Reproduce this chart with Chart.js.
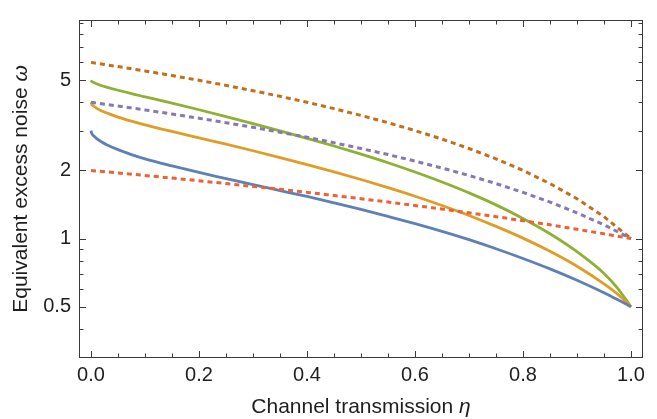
<!DOCTYPE html>
<html><head><meta charset="utf-8">
<script src="https://cdn.jsdelivr.net/npm/chart.js@4"></script>
<style>html,body{margin:0;padding:0;background:#fff}canvas{display:block}</style>
</head><body>
<canvas id="c" width="657" height="419"></canvas>
<script>
// ---- data ----
const etaSolid = [0, 0.001, 0.0025, 0.005, 0.01, 0.02, 0.03, 0.05, 0.075, 0.1, 0.15, 0.2, 0.25, 0.3, 0.35, 0.4, 0.45, 0.5, 0.55, 0.6, 0.65, 0.7, 0.75, 0.8, 0.85, 0.9, 0.95, 0.975, 1.0];
const blueSolid   = [3.00, 2.93, 2.88, 2.84, 2.77, 2.67, 2.59, 2.47, 2.35, 2.25, 2.094, 1.959, 1.841, 1.730, 1.629, 1.535, 1.439, 1.346, 1.253, 1.164, 1.076, 0.989, 0.902, 0.817, 0.735, 0.655, 0.577, 0.538, 0.50];
const orangeSolid = [4.00, 3.93, 3.89, 3.84, 3.77, 3.66, 3.58, 3.44, 3.30, 3.18, 2.972, 2.786, 2.612, 2.443, 2.280, 2.123, 1.972, 1.824, 1.679, 1.538, 1.400, 1.265, 1.132, 1.005, 0.879, 0.755, 0.631, 0.569, 0.50];
const greenSolid  = [5.00, 4.955, 4.92, 4.887, 4.83, 4.73, 4.656, 4.52, 4.365, 4.227, 3.963, 3.707, 3.459, 3.221, 2.992, 2.773, 2.564, 2.360, 2.163, 1.968, 1.778, 1.592, 1.409, 1.227, 1.050, 0.875, 0.702, 0.605, 0.50];

const etaDashed = [0, 0.05, 0.1, 0.15, 0.2, 0.25, 0.3, 0.35, 0.4, 0.45, 0.5, 0.55, 0.6, 0.65, 0.7, 0.75, 0.8, 0.85, 0.9, 0.95, 1.0];
const redDashed    = [2.00, 1.95, 1.90, 1.85, 1.80, 1.75, 1.70, 1.65, 1.60, 1.55, 1.50, 1.45, 1.40, 1.35, 1.30, 1.25, 1.20, 1.15, 1.10, 1.05, 1.00];
const purpleDashed = [4.00, 3.85, 3.70, 3.55, 3.40, 3.25, 3.10, 2.95, 2.80, 2.65, 2.50, 2.35, 2.20, 2.05, 1.90, 1.75, 1.60, 1.45, 1.30, 1.15, 1.00];
const brownDashed  = [6.00, 5.75, 5.50, 5.25, 5.00, 4.75, 4.50, 4.25, 4.00, 3.75, 3.50, 3.25, 3.00, 2.75, 2.50, 2.25, 2.00, 1.75, 1.50, 1.25, 1.00];

const xTickLabels = [0, 0.2, 0.4, 0.6, 0.8, 1.0];
const xMinorTicks = [0.05, 0.1, 0.15, 0.25, 0.3, 0.35, 0.45, 0.5, 0.55, 0.65, 0.7, 0.75, 0.85, 0.9, 0.95];
const yTickLabels = [0.5, 1, 2, 5];
const yMinorTicks = [0.4, 0.6, 0.7, 0.8, 0.9, 3, 4, 6, 7, 8, 9];

const xTitle = ['Channel transmission ', '\u03B7'];
const yTitle = ['Equivalent excess noise ', '\u03C9'];

// ---- styling ----
const FONT = "'Liberation Sans', Arial, sans-serif";
const textColor = '#1e1e1e';
const frameColor = '#3a3a3a';

function pts(xs, ys) { return xs.map((x, i) => ({ x: x, y: ys[i] })); }
function solid(data, color) {
  return { data: data, borderColor: color, borderWidth: 2.8, pointRadius: 0, fill: false,
           cubicInterpolationMode: 'monotone', order: 1 };
}
function dashed(data, color) {
  return { data: data, borderColor: color, borderWidth: 3, pointRadius: 0, fill: false,
           borderDash: [5, 4], order: 0 };
}

const frameTicks = {
  id: 'frameTicks',
  afterDraw(chart) {
    const { ctx, chartArea: a, scales: { x, y } } = chart;
    ctx.save();
    ctx.strokeStyle = frameColor;
    ctx.lineWidth = 1;
    ctx.strokeRect(a.left - 0.5, a.top - 0.5, a.right - a.left + 1, a.bottom - a.top + 1);
    ctx.beginPath();
    const tick = (vals, len) => {
      vals.forEach(v => {
        const px = Math.round(x.getPixelForValue(v)) + 0.5;
        ctx.moveTo(px, a.bottom); ctx.lineTo(px, a.bottom - len);
        ctx.moveTo(px, a.top); ctx.lineTo(px, a.top + len);
      });
    };
    const ytick = (vals, len) => {
      vals.forEach(v => {
        const py = Math.round(y.getPixelForValue(v)) + 0.5;
        ctx.moveTo(a.left, py); ctx.lineTo(a.left + len, py);
        ctx.moveTo(a.right, py); ctx.lineTo(a.right - len, py);
      });
    };
    tick(xTickLabels, 6); tick(xMinorTicks, 3.5);
    ytick(yTickLabels, 6); ytick(yMinorTicks, 3.5);
    ctx.stroke();

    // axis titles with italic symbols
    const normal = '21px ' + FONT, ital = 'italic 21px ' + FONT;
    const drawMixed = (parts, cx, cy) => {
      ctx.font = normal; const w0 = ctx.measureText(parts[0]).width;
      ctx.font = ital; const w1 = ctx.measureText(parts[1]).width;
      let sx = cx - (w0 + w1) / 2;
      ctx.textBaseline = 'alphabetic'; ctx.textAlign = 'left';
      ctx.fillStyle = textColor;
      ctx.font = normal; ctx.fillText(parts[0], sx, cy);
      ctx.font = ital; ctx.fillText(parts[1], sx + w0, cy);
    };
    drawMixed(xTitle, (a.left + a.right) / 2, chart.height - 6);
    ctx.translate(a.left - 53, (a.top + a.bottom) / 2);
    ctx.rotate(-Math.PI / 2);
    drawMixed(yTitle, 0, 0);
    ctx.restore();
  }
};

new Chart(document.getElementById('c'), {
  type: 'line',
  data: {
    datasets: [
      solid(pts(etaSolid, blueSolid), '#5E81B5'),
      solid(pts(etaSolid, orangeSolid), '#E09C24'),
      solid(pts(etaSolid, greenSolid), '#8FB032'),
      dashed(pts(etaDashed, redDashed), '#EB6235'),
      dashed(pts(etaDashed, purpleDashed), '#8778B3'),
      dashed(pts(etaDashed, brownDashed), '#C56E1A')
    ]
  },
  options: {
    responsive: false,
    animation: false,
    devicePixelRatio: 1,
    layout: { padding: { top: 9, right: 15, left: 0, bottom: 0 } },
    plugins: { legend: { display: false }, tooltip: { enabled: false } },
    scales: {
      x: {
        type: 'linear', min: -0.0204, max: 1.0204,
        grid: { display: false, drawTicks: false },
        border: { display: false },
        afterBuildTicks: s => { s.ticks = xTickLabels.map(v => ({ value: v })); },
        afterFit: s => { s.height = 62; },
        ticks: { padding: 6, color: textColor, font: { family: FONT, size: 20 },
                 maxRotation: 0, autoSkip: false, callback: v => Number(v).toFixed(1) }
      },
      y: {
        type: 'logarithmic', min: 0.329, max: 9.14,
        grid: { display: false, drawTicks: false },
        border: { display: false },
        afterBuildTicks: s => { s.ticks = yTickLabels.map(v => ({ value: v })); },
        afterFit: s => { s.width = 80; },
        ticks: { padding: 9, color: textColor, font: { family: FONT, size: 20 },
                 autoSkip: false, callback: v => String(v) }
      }
    }
  },
  plugins: [frameTicks]
});
</script>
</body></html>
